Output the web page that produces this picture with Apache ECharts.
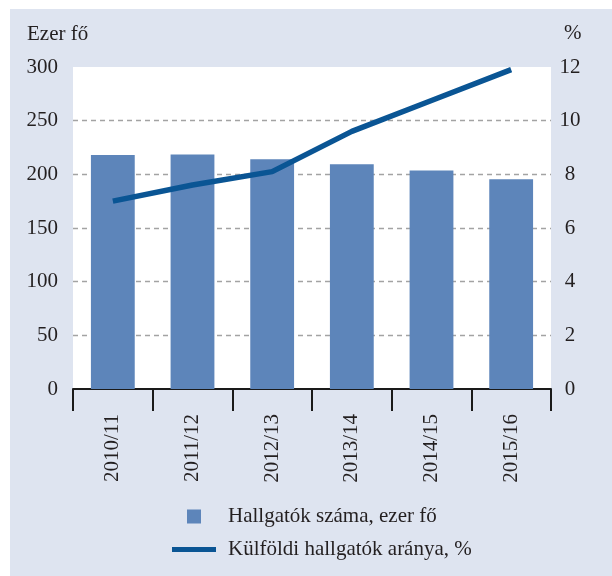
<!DOCTYPE html>
<html>
<head>
<meta charset="utf-8">
<script src="https://cdn.jsdelivr.net/npm/echarts@6/dist/echarts.min.js"></script>
<style>
html,body{margin:0;padding:0;background:#ffffff;}
#wrap{position:absolute;left:10px;top:9px;width:602px;height:567px;background:#dee4f0;}
#chart{position:absolute;left:0;top:0;width:612px;height:576px;}
</style>
</head>
<body>
<div id="wrap"></div>
<div id="chart"></div>
<script>
const categories = ['2010/11', '2011/12', '2012/13', '2013/14', '2014/15', '2015/16'];
const students = [218, 218.5, 214, 209.5, 203.5, 195.5];
const foreignShare = [7.0, 7.6, 8.1, 9.6, 10.75, 11.9];
const leftTicks = {min: 0, max: 300, interval: 50};
const rightTicks = {min: 0, max: 12, interval: 2};
const seriesNames = ['Hallgatók száma, ezer fő', 'Külföldi hallgatók aránya, %'];

const FONT = 'Liberation Serif';
const FS = 21;
const TXT = '#231f20';
const GRID = '#a3a3a3';
const chart = echarts.init(document.getElementById('chart'), null, {renderer: 'canvas'});
chart.setOption({
  backgroundColor: 'transparent',
  animation: false,
  textStyle: {fontFamily: FONT, color: TXT},
  title: [
    {text: 'Ezer fő', left: 22, top: 19, textStyle: {fontFamily: FONT, fontSize: FS, fontWeight: 'normal', color: TXT}},
    {text: '%', left: 559, top: 18, textStyle: {fontFamily: FONT, fontSize: FS, fontWeight: 'normal', color: TXT}}
  ],
  grid: {left: 73, right: 61, top: 67, bottom: 187, show: true, backgroundColor: '#ffffff', borderWidth: 0},
  legend: [
    {
      data: [seriesNames[0]], left: 182, top: 501, orient: 'vertical',
      icon: 'rect', itemWidth: 14, itemHeight: 14,
      textStyle: {fontFamily: FONT, fontSize: FS, color: TXT, padding: [0, 0, 0, 22]}
    },
    {
      data: [seriesNames[1]], left: 167, top: 534, orient: 'vertical',
      icon: 'rect', itemWidth: 44, itemHeight: 5,
      textStyle: {fontFamily: FONT, fontSize: FS, color: TXT, padding: [0, 0, 0, 7]}
    }
  ],
  xAxis: {
    type: 'category', data: categories, boundaryGap: true,
    axisLine: {lineStyle: {color: '#1a1a1a', width: 2}},
    axisTick: {show: true, length: 22, lineStyle: {color: '#1a1a1a', width: 2}},
    axisLabel: {rotate: 90, margin: 25, fontFamily: FONT, fontSize: FS, color: TXT}
  },
  yAxis: [
    {
      type: 'value', min: leftTicks.min, max: leftTicks.max, interval: leftTicks.interval,
      axisLine: {show: false}, axisTick: {show: false},
      axisLabel: {margin: 15, fontFamily: FONT, fontSize: FS, color: TXT},
      splitLine: {show: true, lineStyle: {color: ['transparent', GRID, GRID, GRID, GRID, GRID, 'transparent'], width: 1.3, type: [5, 4]}}
    },
    {
      type: 'value', min: rightTicks.min, max: rightTicks.max, interval: rightTicks.interval,
      position: 'right',
      axisLine: {show: false}, axisTick: {show: false},
      axisLabel: {margin: 19, align: 'center', fontFamily: FONT, fontSize: FS, color: TXT},
      splitLine: {show: false}
    }
  ],
  series: [
    {
      name: seriesNames[0], type: 'bar', data: students, yAxisIndex: 0,
      barWidth: '55%', itemStyle: {color: '#5d85ba'}
    },
    {
      name: seriesNames[1], type: 'line', data: foreignShare, yAxisIndex: 1,
      symbol: 'none', lineStyle: {color: '#0a5594', width: 5.5}, itemStyle: {color: '#0a5594'}
    }
  ]
});
</script>
</body>
</html>
